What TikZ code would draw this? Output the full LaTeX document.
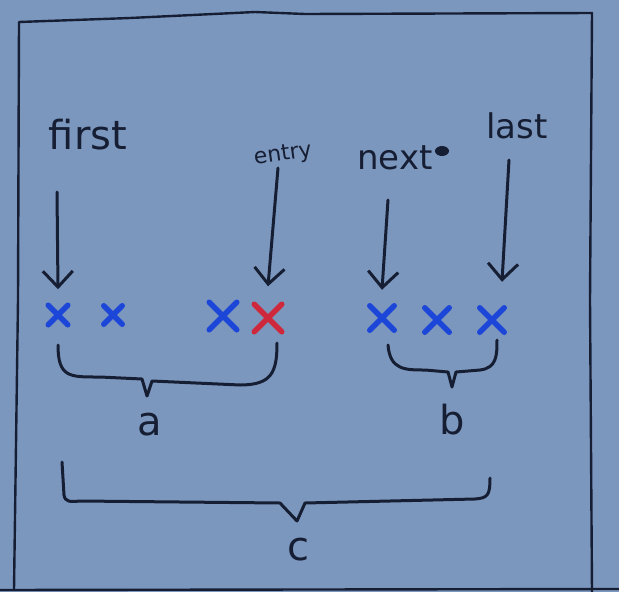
\documentclass[tikz,border=0pt]{standalone}
\usepackage{fontspec}
\setmainfont{DejaVu Sans}
\usetikzlibrary{arrows.meta,shapes.misc}
\definecolor{paper}{RGB}{124,151,190}
\definecolor{ink}{RGB}{22,30,52}
\definecolor{penblue}{RGB}{28,70,215}
\definecolor{penred}{RGB}{205,40,60}
\tikzset{
  hand/.style={draw=ink, line width=3pt, line cap=round, line join=round},
  pointer/.style={hand, -{Straight Barb[length=16pt,width=30pt,line width=3pt]}},
  word/.style={text=ink, inner sep=0pt, font=\fontsize{40}{44}\selectfont},
  letter/.style={text=ink, inner sep=0pt, font=\fontsize{40}{44}\selectfont},
  elem/.style={cross out, draw=penblue, line width=5.5pt, line cap=round, minimum size=16pt, inner sep=0pt},
  bigelem/.style={elem, minimum size=22pt},
}
\begin{document}
\begin{tikzpicture}[x=1pt,y=-1pt]
  \fill[paper] (0,0) rectangle (619,592);
  \useasboundingbox (0,0) rectangle (619,592);

  % sheet outline
  \draw[hand, line width=2.4pt] (14,590) -- (18,300) -- (19,22) -- (130,18) -- (255,12) -- (305,14) -- (592,13) -- (590,300) -- (592,592);
  \draw[hand, line width=2.4pt] (0,590) -- (619,589);

  % labels above the list
  \node[word] (first) at (88,135) {first};
  \node[word, font=\fontsize{22}{26}\selectfont, rotate=8] (entry) at (283,155) {entry};
  \node[word, font=\fontsize{34}{38}\selectfont] (next) at (395,158) {next};
  \node[word, font=\fontsize{34}{38}\selectfont] (last) at (517,126) {last};
  \fill[ink] (442,151) ellipse (7pt and 5pt);

  % list elements
  \node[elem, minimum size=14pt] (e1) at (58,315) {};
  \node[elem, minimum size=13pt] (e2) at (113,315) {};
  \node[bigelem] (e3) at (223,316) {};
  \node[bigelem, draw=penred] (e4) at (268,318) {};
  \node[elem, minimum size=19pt] (e5) at (382,318) {};
  \node[elem, minimum size=19pt] (e6) at (437,320) {};
  \node[elem, minimum size=19pt] (e7) at (492,320) {};

  % pointers
  \draw[pointer] (57,192) -- ([yshift=16pt]e1.north);
  \draw[pointer] (278,168) -- ([yshift=18pt]e4.north);
  \draw[pointer] (388,200) -- ([yshift=16pt]e5.north);
  \draw[pointer] (509,160) -- ([xshift=10pt,yshift=26pt]e7.north);

  % brace a
  \draw[hand] (58,345) .. controls (58,378) and (70,377) .. (100,377)
     -- (142,379) -- (147,396) -- (152,381) -- (240,385)
     .. controls (272,385) and (277,372) .. (277,343);
  \node[letter] (a) at (150,425) {a};

  % brace b
  \draw[hand] (388,345) .. controls (390,370) and (405,370) .. (425,370)
     -- (448,372) -- (452,387) -- (456,372) -- (480,370)
     .. controls (497,368) and (497,355) .. (497,340);
  \node[letter] (b) at (452,420) {b};

  % brace c
  \draw[hand] (62,462) -- (64,495) .. controls (65,502) and (70,502) .. (80,501)
     -- (280,503) -- (297,521) -- (305,503) -- (475,499)
     .. controls (488,498) and (490,495) .. (490,478);
  \node[letter] (c) at (298,550) {c};
\end{tikzpicture}
\end{document}
